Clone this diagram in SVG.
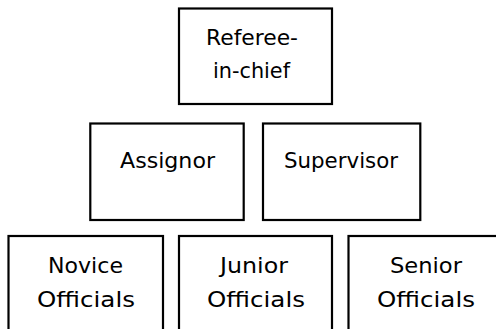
<svg xmlns="http://www.w3.org/2000/svg" width="496" height="329" viewBox="0 0 496 329">
<style>
rect.box{fill:#fff;stroke:#000;stroke-width:2.2}
text{font-family:"DejaVu Sans","Liberation Sans",sans-serif;font-size:22px;fill:#000;text-anchor:middle}
</style>
<rect width="496" height="329" fill="#fff"/>
<g id="connectors"></g>
<g id="referee-in-chief">
<rect class="box" x="179" y="8.5" width="153" height="95.5"/>
<text x="252" y="45" textLength="92" lengthAdjust="spacingAndGlyphs">Referee-</text>
<text x="251.5" y="78" textLength="77" lengthAdjust="spacingAndGlyphs">in-chief</text>
</g>
<g id="assignor">
<rect class="box" x="90.3" y="123.5" width="153.4" height="96.5"/>
<text x="167.5" y="168" textLength="95" lengthAdjust="spacingAndGlyphs">Assignor</text>
</g>
<g id="supervisor">
<rect class="box" x="263" y="123.5" width="157.3" height="96.5"/>
<text x="341" y="168" textLength="114" lengthAdjust="spacingAndGlyphs">Supervisor</text>
</g>
<g id="novice-officials">
<rect class="box" x="8.5" y="236" width="154.5" height="100"/>
<text x="85.5" y="273" textLength="75" lengthAdjust="spacingAndGlyphs">Novice</text>
<text x="86" y="307" textLength="98" lengthAdjust="spacingAndGlyphs">Officials</text>
</g>
<g id="junior-officials">
<rect class="box" x="179" y="236" width="153" height="100"/>
<text x="254" y="273" textLength="68" lengthAdjust="spacingAndGlyphs">Junior</text>
<text x="256" y="307" textLength="98" lengthAdjust="spacingAndGlyphs">Officials</text>
</g>
<g id="senior-officials">
<rect class="box" x="348.5" y="236" width="156" height="100"/>
<text x="426" y="273" textLength="72" lengthAdjust="spacingAndGlyphs">Senior</text>
<text x="426" y="307" textLength="98" lengthAdjust="spacingAndGlyphs">Officials</text>
</g>
</svg>
